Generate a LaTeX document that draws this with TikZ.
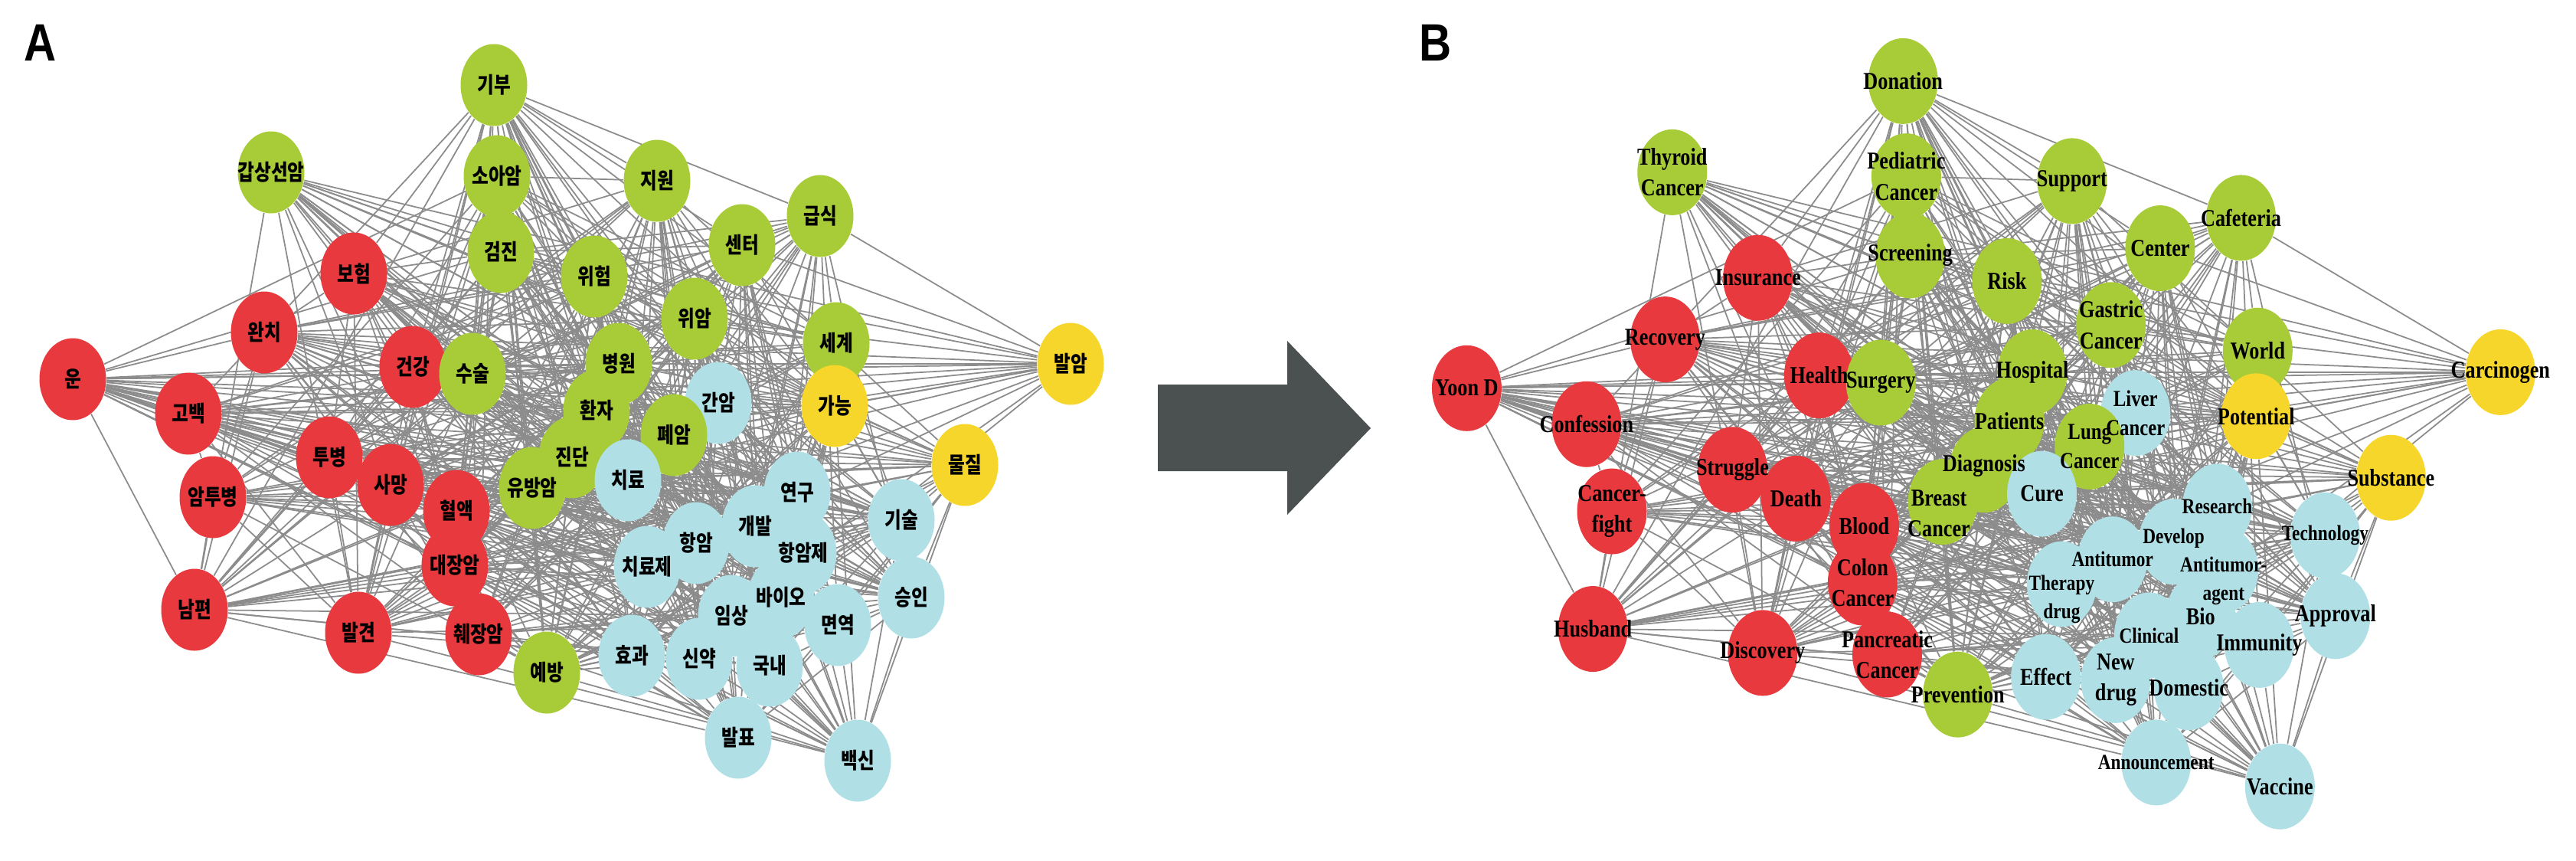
\documentclass[tikz,border=0pt]{standalone}
\usepackage{fontspec}
\usepackage{xcolor}
\usepackage{tikz}
\usetikzlibrary{shapes.geometric}

\newfontfamily\kofont[FakeStretch=0.82]{Noto Sans CJK KR}
\newfontfamily\enfont[FakeStretch=0.83]{Liberation Serif}
\newfontfamily\panelfont[FakeStretch=0.85]{Liberation Sans}

\definecolor{nred}{RGB}{232,58,62}
\definecolor{ngreen}{RGB}{168,203,56}
\definecolor{nyellow}{RGB}{247,214,44}
\definecolor{nblue}{RGB}{176,224,230}
\definecolor{arrowgray}{RGB}{75,81,81}

\pgfdeclarelayer{edgelayer}
\pgfdeclarelayer{disclayer}
\pgfsetlayers{edgelayer,disclayer,main}

\tikzset{
  kw/.style={ellipse,inner sep=0pt,minimum width=0.87cm,minimum height=1.07cm},
  kr/.style={kw,fill=nred},
  kg/.style={kw,fill=ngreen},
  ky/.style={kw,fill=nyellow},
  kb/.style={kw,fill=nblue},
  kot/.style={font=\kofont\bfseries\fontsize{8.2}{9}\selectfont,inner sep=0pt},
  ent/.style={font=\enfont\bfseries\fontsize{9}{11.5}\selectfont,align=center,inner sep=0pt},
  entm/.style={ent,font=\enfont\bfseries\fontsize{8.5}{11}\selectfont},
  ents/.style={ent,font=\enfont\bfseries\fontsize{8}{10.5}\selectfont},
  panel/.style={font=\panelfont\bfseries\fontsize{19.5}{20}\selectfont,inner sep=0pt,anchor=base west},
  link/.style={draw=black!45,line width=0.5pt}
}

\begin{document}
\begin{tikzpicture}
\useasboundingbox (0,0) rectangle (33.64,-11.23);

\node (pa) at (0.31,-0.79) [panel] {A};
\node (pb) at (18.53,-0.79) [panel] {B};

% graph A
\begin{pgfonlayer}{disclayer}
\node (a1) at (0.95,-4.95) [kr] {};
\node (a2) at (4.62,-3.57) [kr] {};
\node (a3) at (3.45,-4.34) [kr] {};
\node (a4) at (5.39,-4.79) [kr] {};
\node (a5) at (2.46,-5.40) [kr] {};
\node (a6) at (4.30,-5.97) [kr] {};
\node (a7) at (5.10,-6.33) [kr] {};
\node (a8) at (2.78,-6.49) [kr] {};
\node (a9) at (5.96,-6.67) [kr] {};
\node (a10) at (5.94,-7.38) [kr] {};
\node (a11) at (2.54,-7.96) [kr] {};
\node (a12) at (4.68,-8.26) [kr] {};
\node (a13) at (6.25,-8.28) [kr] {};
\node (a14) at (6.45,-1.11) [kg] {};
\node (a15) at (3.54,-2.25) [kg] {};
\node (a16) at (6.49,-2.30) [kg] {};
\node (a17) at (8.58,-2.36) [kg] {};
\node (a18) at (10.71,-2.82) [kg] {};
\node (a19) at (9.69,-3.20) [kg] {};
\node (a20) at (6.54,-3.29) [kg] {};
\node (a21) at (7.76,-3.61) [kg] {};
\node (a22) at (9.07,-4.16) [kg] {};
\node (a23) at (10.92,-4.48) [kg] {};
\node (a24) at (8.08,-4.75) [kg] {};
\node (a25) at (6.17,-4.88) [kg] {};
\node (a26) at (7.79,-5.36) [kg] {};
\node (a27) at (7.47,-5.97) [kg] {};
\node (a28) at (6.95,-6.37) [kg] {};
\node (a29) at (7.14,-8.78) [kg] {};
\node (a31) at (13.98,-4.75) [ky] {};
\node (a32) at (10.90,-5.30) [ky] {};
\node (a33) at (12.60,-6.07) [ky] {};
\node (a34) at (9.38,-5.26) [kb] {};
\node (a30) at (8.80,-5.68) [kg] {};
\node (a35) at (8.20,-6.27) [kb] {};
\node (a36) at (10.41,-6.43) [kb] {};
\node (a37) at (11.77,-6.79) [kb] {};
\node (a38) at (9.86,-6.87) [kb] {};
\node (a39) at (9.09,-7.09) [kb] {};
\node (a40) at (10.49,-7.22) [kb] {};
\node (a41) at (8.45,-7.40) [kb] {};
\node (a42) at (10.20,-7.80) [kb] {};
\node (a43) at (11.90,-7.80) [kb] {};
\node (a44) at (9.55,-8.04) [kb] {};
\node (a45) at (10.94,-8.16) [kb] {};
\node (a46) at (8.25,-8.56) [kb] {};
\node (a47) at (9.13,-8.60) [kb] {};
\node (a48) at (10.05,-8.69) [kb] {};
\node (a49) at (9.64,-9.63) [kb] {};
\node (a50) at (11.20,-9.93) [kb] {};
\end{pgfonlayer}

\node (ta1) at (a1) [kot] {운};
\node (ta2) at (a2) [kot] {보험};
\node (ta3) at (a3) [kot] {완치};
\node (ta4) at (a4) [kot] {건강};
\node (ta5) at (a5) [kot] {고백};
\node (ta6) at (a6) [kot] {투병};
\node (ta7) at (a7) [kot] {사망};
\node (ta8) at (a8) [kot] {암투병};
\node (ta9) at (a9) [kot] {혈액};
\node (ta10) at (a10) [kot] {대장암};
\node (ta11) at (a11) [kot] {남편};
\node (ta12) at (a12) [kot] {발견};
\node (ta13) at (a13) [kot] {췌장암};
\node (ta14) at (a14) [kot] {기부};
\node (ta15) at (a15) [kot] {갑상선암};
\node (ta16) at (a16) [kot] {소아암};
\node (ta17) at (a17) [kot] {지원};
\node (ta18) at (a18) [kot] {급식};
\node (ta19) at (a19) [kot] {센터};
\node (ta20) at (a20) [kot] {검진};
\node (ta21) at (a21) [kot] {위험};
\node (ta22) at (a22) [kot] {위암};
\node (ta23) at (a23) [kot] {세계};
\node (ta24) at (a24) [kot] {병원};
\node (ta25) at (a25) [kot] {수술};
\node (ta26) at (a26) [kot] {환자};
\node (ta27) at (a27) [kot] {진단};
\node (ta28) at (a28) [kot] {유방암};
\node (ta29) at (a29) [kot] {예방};
\node (ta30) at (a30) [kot] {폐암};
\node (ta31) at (a31) [kot] {발암};
\node (ta32) at (a32) [kot] {가능};
\node (ta33) at (a33) [kot] {물질};
\node (ta34) at (a34) [kot] {간암};
\node (ta35) at (a35) [kot] {치료};
\node (ta36) at (a36) [kot] {연구};
\node (ta37) at (a37) [kot] {기술};
\node (ta38) at (a38) [kot] {개발};
\node (ta39) at (a39) [kot] {항암};
\node (ta40) at (a40) [kot] {항암제};
\node (ta41) at (a41) [kot] {치료제};
\node (ta42) at (a42) [kot] {바이오};
\node (ta43) at (a43) [kot] {승인};
\node (ta44) at (a44) [kot] {임상};
\node (ta45) at (a45) [kot] {면역};
\node (ta46) at (a46) [kot] {효과};
\node (ta47) at (a47) [kot] {신약};
\node (ta48) at (a48) [kot] {국내};
\node (ta49) at (a49) [kot] {발표};
\node (ta50) at (a50) [kot] {백신};

% arrow between the two graphs
\fill[arrowgray] (15.12,-5.02) -- (16.81,-5.02) -- (16.81,-4.45) -- (17.90,-5.59)
  -- (16.81,-6.72) -- (16.81,-6.15) -- (15.12,-6.15) -- cycle;

% graph B, same layout, translated
\begin{scope}[shift={(18.17,0.10)},xscale=1.036,yscale=1.044,
  kw/.append style={minimum width=0.91cm,minimum height=1.12cm}]
\begin{pgfonlayer}{disclayer}
\node (b1) at (0.95,-4.95) [kr] {};
\node (b2) at (4.62,-3.57) [kr] {};
\node (b3) at (3.45,-4.34) [kr] {};
\node (b4) at (5.39,-4.79) [kr] {};
\node (b5) at (2.46,-5.40) [kr] {};
\node (b6) at (4.30,-5.97) [kr] {};
\node (b7) at (5.10,-6.33) [kr] {};
\node (b8) at (2.78,-6.49) [kr] {};
\node (b9) at (5.96,-6.67) [kr] {};
\node (b10) at (5.94,-7.38) [kr] {};
\node (b11) at (2.54,-7.96) [kr] {};
\node (b12) at (4.68,-8.26) [kr] {};
\node (b13) at (6.25,-8.28) [kr] {};
\node (b14) at (6.45,-1.11) [kg] {};
\node (b15) at (3.54,-2.25) [kg] {};
\node (b16) at (6.49,-2.30) [kg] {};
\node (b17) at (8.58,-2.36) [kg] {};
\node (b18) at (10.71,-2.82) [kg] {};
\node (b19) at (9.69,-3.20) [kg] {};
\node (b20) at (6.54,-3.29) [kg] {};
\node (b21) at (7.76,-3.61) [kg] {};
\node (b22) at (9.07,-4.16) [kg] {};
\node (b23) at (10.92,-4.48) [kg] {};
\node (b24) at (8.08,-4.75) [kg] {};
\node (b25) at (6.17,-4.88) [kg] {};
\node (b26) at (7.79,-5.36) [kg] {};
\node (b27) at (7.47,-5.97) [kg] {};
\node (b28) at (6.95,-6.37) [kg] {};
\node (b29) at (7.14,-8.78) [kg] {};
\node (b31) at (13.98,-4.75) [ky] {};
\node (b32) at (10.90,-5.30) [ky] {};
\node (b33) at (12.60,-6.07) [ky] {};
\node (b34) at (9.38,-5.26) [kb] {};
\node (b30) at (8.80,-5.68) [kg] {};
\node (b35) at (8.20,-6.27) [kb] {};
\node (b36) at (10.41,-6.43) [kb] {};
\node (b37) at (11.77,-6.79) [kb] {};
\node (b38) at (9.86,-6.87) [kb] {};
\node (b39) at (9.09,-7.09) [kb] {};
\node (b40) at (10.49,-7.22) [kb] {};
\node (b41) at (8.45,-7.40) [kb] {};
\node (b42) at (10.20,-7.80) [kb] {};
\node (b43) at (11.90,-7.80) [kb] {};
\node (b44) at (9.55,-8.04) [kb] {};
\node (b45) at (10.94,-8.16) [kb] {};
\node (b46) at (8.25,-8.56) [kb] {};
\node (b47) at (9.13,-8.60) [kb] {};
\node (b48) at (10.05,-8.69) [kb] {};
\node (b49) at (9.64,-9.63) [kb] {};
\node (b50) at (11.20,-9.93) [kb] {};
\end{pgfonlayer}
\end{scope}

\node (tb1) at (b1) [ent] {Yoon D};
\node (tb2) at (b2) [ent] {Insurance};
\node (tb3) at (b3) [ent] {Recovery};
\node (tb4) at (b4) [ent] {Health};
\node (tb5) at (b5) [ent] {Confession};
\node (tb6) at (b6) [ent] {Struggle};
\node (tb7) at (b7) [ent] {Death};
\node (tb8) at (b8) [ent] {Cancer-\\fight};
\node (tb9) at (b9) [ent] {Blood};
\node (tb10) at (b10) [ent] {Colon\\Cancer};
\node (tb11) at (b11) [ent] {Husband};
\node (tb12) at (b12) [ent] {Discovery};
\node (tb13) at (b13) [ent] {Pancreatic\\Cancer};
\node (tb14) at (b14) [ent] {Donation};
\node (tb15) at (b15) [ent] {Thyroid\\Cancer};
\node (tb16) at (b16) [ent] {Pediatric\\Cancer};
\node (tb17) at (b17) [ent] {Support};
\node (tb18) at (b18) [ent] {Cafeteria};
\node (tb19) at (b19) [ent] {Center};
\node (tb20) at (b20) [ent] {Screening};
\node (tb21) at (b21) [ent] {Risk};
\node (tb22) at (b22) [ent] {Gastric\\Cancer};
\node (tb23) at (b23) [ent] {World};
\node (tb24) at (b24) [ent] {Hospital};
\node (tb25) at (b25) [ent] {Surgery};
\node (tb26) at (b26) [ent] {Patients};
\node (tb27) at ([yshift=0.5mm]b27) [ent] {Diagnosis};
\node (tb28) at ([xshift=-0.5mm,yshift=-1.5mm]b28) [ent] {Breast\\Cancer};
\node (tb29) at (b29) [ent] {Prevention};
\node (tb30) at (b30) [entm] {Lung\\Cancer};
\node (tb31) at (b31) [ent] {Carcinogen};
\node (tb32) at (b32) [ent] {Potential};
\node (tb33) at (b33) [ent] {Substance};
\node (tb34) at (b34) [entm] {Liver\\Cancer};
\node (tb35) at (b35) [ent] {Cure};
\node (tb36) at (b36) [ents] {Research};
\node (tb37) at (b37) [ents] {Technology};
\node (tb38) at ([yshift=0.5mm]b38) [ents] {Develop};
\node (tb39) at (b39) [ents] {Antitumor};
\node (tb40) at ([yshift=-1.5mm]b40) [ents] {Antitumor-\\agent};
\node (tb41) at ([yshift=-2mm]b41) [ents] {Therapy\\drug};
\node (tb42) at (b42) [ent] {Bio};
\node (tb43) at (b43) [ent] {Approval};
\node (tb44) at (b44) [ents] {Clinical};
\node (tb45) at (b45) [ent] {Immunity};
\node (tb46) at (b46) [ent] {Effect};
\node (tb47) at (b47) [ent] {New\\drug};
\node (tb48) at (b48) [ent] {Domestic};
\node (tb49) at (b49) [ents] {Announcement};
\node (tb50) at (b50) [ent] {Vaccine};

% co-occurrence links, same pairs in both graphs
\begin{pgfonlayer}{edgelayer}
\fill[white] (0,0) rectangle (33.64,-11.23);
\foreach \i in {1,...,49}{
  \pgfmathtruncatemacro\k{\i+1}
  \foreach \j in {\k,...,50}{
    \pgfmathtruncatemacro\h{mod(mod(\i*\i,97)*17+mod(\j*\j,97)*31+mod(\i*\j,97)*7+3*\i+5*\j,97)}
    \ifnum\h<52
      \draw[link] (a\i) -- (a\j);
      \draw[link] (b\i) -- (b\j);
    \fi
  }
}
\end{pgfonlayer}
\end{tikzpicture}
\end{document}
